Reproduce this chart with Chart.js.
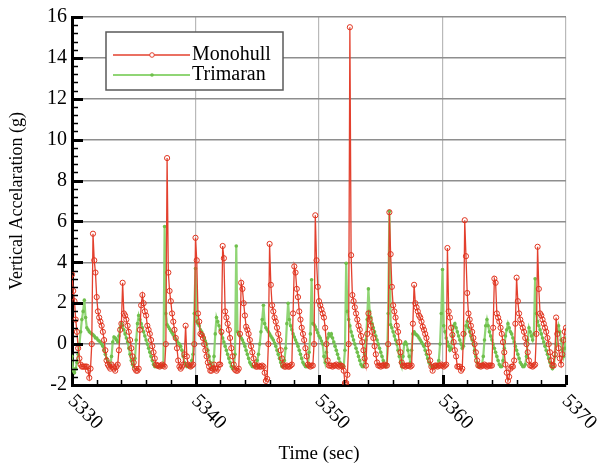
<!DOCTYPE html>
<html lang="en">
  <head>
    <meta charset="UTF-8" />
    <title>Vertical Acceleration - Monohull vs Trimaran</title>
    <style>
      body {
        margin: 0;
        background: #fff;
      }
    </style>
  </head>
  <body>
    <canvas id="accChart" width="603" height="467"></canvas>
    <script src="https://cdn.jsdelivr.net/npm/chart.js"></script>
    <script>
      // sampling of both records (seconds)
      const startTime = 5330;
      const sampleStep = 0.1;
      const xTickValues = [5330, 5340, 5350, 5360, 5370];
      const seriesNames = ["Monohull", "Trimaran"];

      // one line per second, 10 samples each
      const monohull = [
        3.4, 2.6, 2.1, 1.2, 0.6, -0.2, -0.7, -1.0, -1.1, -1.1,
        -1.1, -1.1, -1.1, -1.3, -1.65, -1.2, 0.0, 5.4, 4.1, 3.5,
        2.3, 1.6, 1.3, 1.1, 0.9, 0.6, 0.2, -0.3, -0.8, -1.0,
        -1.1, -1.2, -1.0, -1.1, -1.2, -1.3, -1.1, -1.0, -0.3, 0.7,
        1.0, 3.0, 1.5, 1.4, 1.2, 0.9, 0.6, 0.2, -0.2, -0.6,
        -0.9, -1.2, -1.3, -1.3, -1.2, 0.7, 1.9, 2.4, 2.0, 1.6,
        1.4, 0.9, 0.7, 0.5, 0.2, -0.1, -0.4, -0.7, -1.0, -1.05,
        -1.05, -1.1, -1.05, -1.0, -1.05, -1.1, 0.0, 9.1, 3.5, 2.6,
        2.1, 1.5, 1.1, 0.7, 0.3, -0.2, -0.8, -1.1, -1.2, -1.1,
        -1.0, -0.5, 0.9, -0.6, -1.0, -1.05, -1.1, -1.05, -1.0, 0.0,
        5.2, 4.1, 1.5, 1.1, 0.5, 0.45, 0.3, 0.0, -0.3, -0.6,
        -0.9, -1.1, -1.3, -1.3, -1.2, -1.0, -1.2, -1.3, -1.2, -1.0,
        -1.0, 0.6, 4.8, 4.2, 1.6, 1.3, 1.0, 0.7, 0.3, -0.2,
        -0.6, -1.0, -1.25, -1.3, -1.3, -1.2, 0.5, 3.0, 2.7, 2.0,
        1.4, 0.85, 0.7, 0.5, 0.2, -0.1, -0.4, -0.7, -1.0, -1.1,
        -1.1, -1.05, -1.1, -1.1, -1.05, -1.1, -1.4, -1.8, -1.7, 0.0,
        4.9, 2.9, 1.9, 1.6, 1.3, 1.1, 0.8, 0.5, 0.2, -0.3,
        -0.7, -1.0, -1.1, -1.1, -1.05, -1.1, -1.1, -1.05, -1.0, 1.5,
        3.8, 3.5, 2.7, 2.3, 1.6, 1.2, 0.8, 0.5, 0.2, -0.2,
        -0.6, -1.0, -1.05, -1.1, -1.05, -1.05, 0.0, 6.3, 4.1, 2.8,
        2.1, 1.9, 1.7, 1.5, 1.3, 0.8, 0.0, -0.8, -1.05, -1.05,
        -1.05, -1.1, -1.05, -1.05, -1.0, -1.05, -1.1, -1.05, -1.05, -1.1,
        -1.3, -1.9, -1.9, -1.5, 0.0, 15.5, 4.35, 2.4, 2.1, 1.8,
        1.5, 1.2, 0.9, 0.7, 0.4, 0.1, -0.3, -0.7, -1.05, 0.5,
        1.5, 1.2, 0.9, 0.6, 0.3, -0.1, -0.5, -0.9, -1.05, -1.05,
        -1.1, -1.05, -1.05, -1.0, -1.05, -1.05, 0.0, 6.45, 4.4, 2.8,
        1.9, 1.6, 1.3, 0.9, 0.6, 0.1, -0.4, -0.9, -1.05, -1.05,
        -1.1, -1.05, -1.05, -1.05, -1.1, -1.05, 1.0, 2.9, 2.0, 1.8,
        1.6, 1.4, 1.3, 1.1, 0.85, 0.7, 0.5, 0.3, 0.0, -0.4,
        -0.8, -1.1, -1.3, -1.1, -1.05, -1.05, -1.1, -1.05, -1.05, -1.0,
        -1.05, -1.1, -1.05, -1.0, 4.7, 1.6, 1.3, 0.8, 0.45, 0.1,
        -0.3, -0.6, -1.1, -1.1, -1.1, -1.3, -1.2, 0.5, 6.06, 4.3,
        2.5, 1.5, 1.2, 0.9, 0.6, 0.3, 0.0, -0.4, -0.8, -1.05,
        -1.05, -1.1, -1.05, -1.05, -1.0, -1.05, -1.1, -1.05, -1.05, -1.05,
        -1.05, 0.8, 3.2, 3.0, 1.5, 1.3, 1.1, 0.8, 0.5, 0.1,
        -0.4, -1.0, -1.4, -1.8, -1.6, -1.2, -1.1, -1.1, -0.8, 1.0,
        3.25, 2.1, 1.5, 1.2, 1.0, 0.8, 0.6, 0.3, 0.0, -0.4,
        -0.8, -1.05, -1.05, -1.1, -1.05, -1.0, 0.5, 4.76, 2.7, 1.5,
        1.4, 1.2, 1.0, 0.8, 0.6, 0.3, 0.0, -0.4, -0.8, -1.05,
        -1.05, -0.5, 1.3, 0.5, -0.2, -0.7, -1.0, -0.5, 0.2, 0.6,
        0.8,
      ];

      const trimaran = [
        -0.6, -1.3, -1.4, -1.2, -0.9, -0.5, 0.0, 0.6, 1.2, 1.6,
        2.15, 1.3, 0.8, 0.7, 0.6, 0.55, 0.5, 0.45, 0.4, 0.3,
        0.3, 0.2, 0.15, 0.1, 0.0, -0.1, -0.3, -0.5, -0.7, -0.85,
        -1.0, -1.1, -0.6, 0.1, 0.35, 0.3, 0.2, 0.1, 0.4, 0.8,
        1.0, 0.9, 0.7, 0.5, 0.3, 0.1, -0.2, -0.5, -0.8, -1.0,
        -1.1, -0.7, 0.2, 1.0, 1.4, 1.2, 1.0, 0.8, 0.6, 0.4,
        0.2, 0.0, -0.2, -0.4, -0.6, -0.8, -1.0, -1.1, -1.1, -1.1,
        -1.1, -1.1, -1.1, -1.1, -1.0, 5.75, 1.5, 0.95, 0.85, 0.75,
        0.65, 0.55, 0.45, 0.35, 0.25, 0.15, 0.05, 0.0, -0.1, -0.3,
        -0.6, -0.9, -1.0, -1.1, -1.1, -1.0, -1.1, -0.8, -0.5, 1.5,
        3.7, 1.1, 1.0, 0.9, 0.7, 0.6, 0.45, 0.3, 0.15, 0.0,
        -0.3, -0.6, -0.9, -1.1, -1.2, -0.6, 0.5, 1.3, 1.1, 0.9,
        0.7, 0.5, 0.3, 0.1, -0.1, -0.3, -0.5, -0.7, -0.9, -1.1,
        -1.2, -1.1, -0.5, 4.8, 0.6, 0.5, 0.4, 0.3, 0.2, 0.05,
        -0.1, -0.3, -0.5, -0.7, -0.9, -1.0, -1.1, -1.1, -1.1, -1.0,
        -0.8, -0.5, 0.0, 0.6, 1.2, 1.9, 1.0, 0.8, 0.7, 0.6,
        0.5, 0.4, 0.3, 0.2, 0.05, -0.1, -0.3, -0.5, -0.7, -0.9,
        -1.1, -1.1, -0.8, -0.2, 1.0, 2.0, 1.2, 0.9, 0.7, 0.5,
        0.35, 0.2, 0.05, -0.1, -0.3, -0.5, -0.7, -0.9, -1.0, -1.1,
        -1.1, -1.1, -0.4, 0.5, 3.15, 1.0, 0.95, 0.85, 0.7, 0.55,
        0.4, 0.3, 0.15, 0.0, -0.6, -0.9, -0.4, 0.3, 0.5, 0.4,
        0.5, 0.3, 0.1, -0.1, -0.3, -0.5, -0.7, -0.9, -1.05, -1.1,
        -1.1, -0.3, 3.95, 1.6, 1.2, 0.9, 0.6, 0.4, 0.2, 0.0,
        -0.2, -0.4, -0.6, -0.8, -1.0, -1.1, -1.1, -0.5, 0.2, 1.2,
        2.7, 1.6, 1.3, 1.0, 0.8, 0.6, 0.4, 0.2, 0.0, -0.2,
        -0.4, -0.6, -0.8, -1.0, -1.1, -1.0, 1.5, 6.5, 0.95, 0.8,
        0.6, 0.4, 0.2, 0.0, -0.3, -0.6, -0.9, -1.1, -0.6, 0.0,
        0.1, 0.0, -0.3, -0.6, -0.9, -0.3, 0.5, 0.6, 0.5, 0.45,
        0.4, 0.3, 0.2, 0.1, 0.0, -0.1, -0.3, -0.5, -0.7, -0.9,
        -1.0, -1.1, -1.1, -1.1, -1.1, -1.1, -1.0, -0.8, 0.0, 1.5,
        3.65, 0.9, 0.6, 0.3, 0.1, -0.1, -0.3, -0.2, 0.4, 0.9,
        1.0, 0.8, 0.6, 0.4, 0.2, 0.0, -0.2, -0.1, 0.5, 0.9,
        1.1, 0.8, 0.6, 0.4, 0.2, 0.0, -0.3, -0.6, -0.9, -1.1,
        -1.1, -1.1, -1.0, -0.6, 0.2, 0.9, 1.2, 0.9, 0.6, 0.4,
        0.2, 0.0, -0.2, -0.4, -0.6, -0.8, -1.0, -1.1, -1.1, -0.8,
        -0.2, 0.4, 0.7, 1.0, 0.8, 0.6, 0.5, 0.3, 0.1, -0.1,
        -0.3, -0.5, -0.7, -0.9, -1.0, -1.1, -1.1, -1.0, -0.6, 0.2,
        0.8, 0.6, 0.4, 0.2, 0.5, 3.2, 1.5, 1.1, 0.9, 0.7,
        0.5, 0.3, 0.1, -0.1, -0.3, -0.5, -0.7, -0.9, -1.1, -1.2,
        -1.1, -0.6, 0.0, 0.6, 0.9, 0.6, 0.2, -0.3, -0.6, -0.2,
        0.3,
      ];

      const serif = "'Liberation Serif', 'DejaVu Serif', serif";
      Chart.defaults.font.family = serif;
      Chart.defaults.color = "#000";

      function toPoints(values) {
        return values.map((v, i) => ({
          x: +(startTime + i * sampleStep).toFixed(1),
          y: v,
        }));
      }

      const redLine = "#e3402e";
      const greenLine = "rgba(132, 208, 102, 0.9)";

      // inward ticks, rotated x labels and the boxed legend (Tecplot look)
      const frameDecor = {
        id: "frameDecor",
        afterDraw(chart) {
          const { ctx, chartArea: a, scales } = chart;
          const xs = scales.x;
          const ys = scales.y;
          ctx.save();
          ctx.strokeStyle = "#000";

          // y ticks: major every 2, minor every 0.4
          for (let i = 0; i <= 45; i++) {
            const v = -2 + i * 0.4;
            const py = Math.round(ys.getPixelForValue(v)) + 0.5;
            const major = i % 5 === 0;
            ctx.lineWidth = major ? 3 : 1.5;
            ctx.beginPath();
            ctx.moveTo(a.left, py);
            ctx.lineTo(a.left + (major ? 11 : 6), py);
            ctx.stroke();
          }
          // x ticks: major every 10, minor every 2
          for (let i = 0; i <= 20; i++) {
            const t = startTime + i * 2;
            const px = Math.round(xs.getPixelForValue(t)) + 0.5;
            const major = i % 5 === 0;
            ctx.lineWidth = major ? 3 : 1.5;
            ctx.beginPath();
            ctx.moveTo(px, a.bottom);
            ctx.lineTo(px, a.bottom - (major ? 10 : 5));
            ctx.stroke();
          }

          // rotated x tick labels
          ctx.fillStyle = "#000";
          ctx.font = "20px " + serif;
          ctx.textAlign = "left";
          ctx.textBaseline = "top";
          xTickValues.forEach((t) => {
            const px = xs.getPixelForValue(t);
            ctx.save();
            ctx.translate(px + 6, a.bottom + 6);
            ctx.rotate(Math.PI / 4);
            ctx.fillText(String(t), 0, 0);
            ctx.restore();
          });

          // legend box
          const lx = a.left + 34;
          const ly = a.top + 15;
          const lw = 177;
          const lh = 58;
          ctx.fillStyle = "#fff";
          ctx.fillRect(lx, ly, lw, lh);
          ctx.strokeStyle = "#5a5a5a";
          ctx.lineWidth = 1.5;
          ctx.strokeRect(lx, ly, lw, lh);

          const rows = [
            { name: seriesNames[0], color: redLine, width: 1.3, hollow: true },
            { name: seriesNames[1], color: greenLine, width: 2, hollow: false },
          ];
          rows.forEach((r, k) => {
            const ry = ly + 23 + k * 20;
            ctx.strokeStyle = r.color;
            ctx.lineWidth = r.width;
            ctx.beginPath();
            ctx.moveTo(lx + 7, ry);
            ctx.lineTo(lx + 84, ry);
            ctx.stroke();
            ctx.beginPath();
            ctx.arc(lx + 46, ry, r.hollow ? 2.3 : 1.8, 0, Math.PI * 2);
            if (r.hollow) {
              ctx.fillStyle = "#fff";
              ctx.fill();
              ctx.lineWidth = 1;
              ctx.stroke();
            } else {
              ctx.fillStyle = "#6fbf4c";
              ctx.fill();
            }
            ctx.fillStyle = "#000";
            ctx.font = "20px " + serif;
            ctx.textBaseline = "middle";
            ctx.fillText(r.name, lx + 86, ry);
          });
          ctx.restore();
        },
      };

      new Chart(document.getElementById("accChart"), {
        type: "line",
        data: {
          datasets: [
            {
              label: seriesNames[0],
              data: toPoints(monohull),
              borderColor: redLine,
              borderWidth: 1.3,
              pointStyle: "circle",
              pointRadius: 2.6,
              pointBorderWidth: 1,
              pointBorderColor: "#e0341f",
              pointBackgroundColor: "rgba(255,255,255,0)",
              tension: 0,
            },
            {
              label: seriesNames[1],
              data: toPoints(trimaran),
              borderColor: greenLine,
              borderWidth: 2.2,
              pointStyle: "circle",
              pointRadius: 1.8,
              pointBorderWidth: 0,
              pointBackgroundColor: "#6fbf4c",
              tension: 0,
            },
          ],
        },
        options: {
          responsive: false,
          animation: false,
          layout: { padding: { top: 17, right: 37, left: 0, bottom: 0 } },
          plugins: {
            legend: { display: false },
            tooltip: { enabled: false },
          },
          scales: {
            x: {
              type: "linear",
              min: 5330,
              max: 5370,
              afterFit: (s) => {
                s.height = 82;
              },
              ticks: { display: false, stepSize: 10 },
              grid: { color: "#b9b9b9", lineWidth: 1.2, drawTicks: false },
              border: { color: "#000", width: 3 },
              title: {
                display: true,
                text: "Time (sec)",
                font: { size: 19 },
                padding: { top: 0, bottom: 2 },
              },
            },
            y: {
              min: -2,
              max: 16,
              afterFit: (s) => {
                s.width = 72;
              },
              ticks: { stepSize: 2, padding: 5, font: { size: 20 } },
              grid: { color: "#8e8e8e", lineWidth: 1.5, drawTicks: false },
              border: { color: "#000", width: 3 },
              title: {
                display: true,
                text: "Vertical Accelaration (g)",
                font: { size: 18 },
                padding: { top: 6, bottom: 0 },
              },
            },
          },
        },
        plugins: [frameDecor],
      });
    </script>
  </body>
</html>
